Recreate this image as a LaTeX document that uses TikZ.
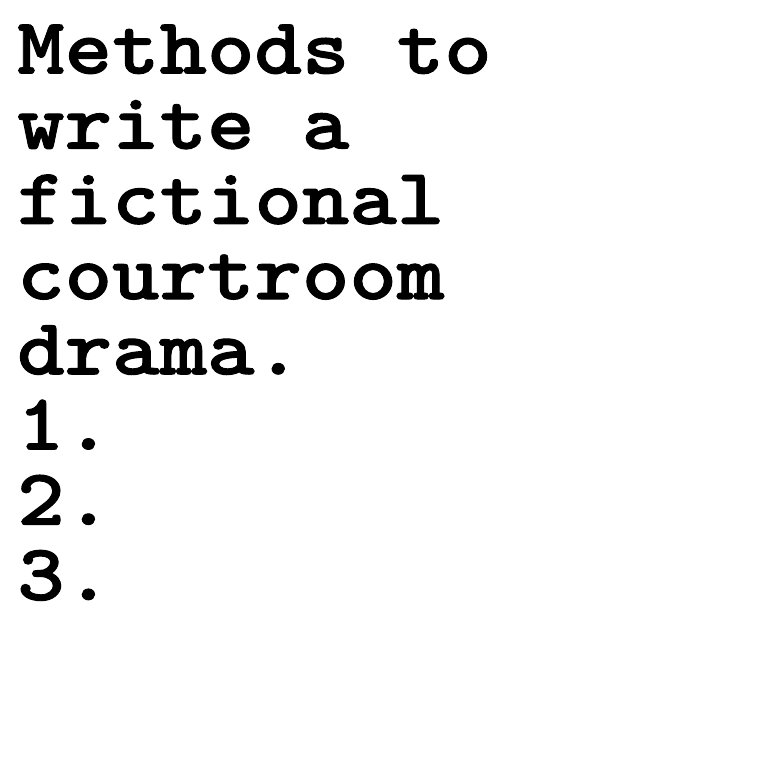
\documentclass[tikz,border=0pt]{standalone}
\usepackage{fontspec}
\newfontfamily\courfont{lmmonolt10-bold}[Extension=.otf,FakeStretch=1.13,FakeBold=1.2]
\begin{document}
\begin{tikzpicture}[x=1pt,y=1pt,
  txt/.style={anchor=base west,inner sep=0pt,font=\courfont\fontsize{80}{75}\selectfont}]
\useasboundingbox (0,0) rectangle (760,760);
\node[txt] (l1) at (17,{760-73.5}) {Methods to};
\node[txt] (l2) at (17,{760-148.7}) {write a};
\node[txt] (l3) at (17,{760-223.9}) {fictional};
\node[txt] (l4) at (17,{760-299.1}) {courtroom};
\node[txt] (l5) at (17,{760-374.3}) {drama.};
\node[txt] (l6) at (17,{760-449.5}) {1.};
\node[txt] (l7) at (17,{760-524.7}) {2.};
\node[txt] (l8) at (17,{760-599.9}) {3.};
\end{tikzpicture}
\end{document}
